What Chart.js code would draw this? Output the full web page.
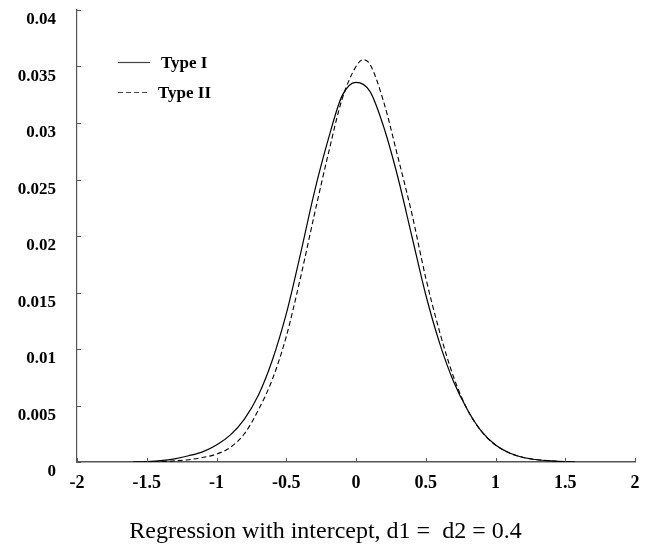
<!DOCTYPE html>
<html>
<head>
<meta charset="utf-8">
<script src="https://cdn.jsdelivr.net/npm/chart.js@4"></script>
<style>
    html, body { margin: 0; padding: 0; background: #fff; }
    #wrap { position: relative; width: 660px; height: 548px; }
</style>
</head>
<body>
<div id="wrap"><canvas id="chart"></canvas></div>
<script>
(function() {
    "use strict";

    var seriesNames = ["Type I", "Type II"];
    var axisTitle = "Regression with intercept, d1 =  d2 = 0.4";

    var typeIX = [-1.6, -1.5, -1.4, -1.3, -1.2, -1.1, -1.0, -0.9, -0.8, -0.7, -0.6, -0.5, -0.4, -0.3, -0.2, -0.1,
        0.0, 0.1, 0.2, 0.3, 0.4, 0.5, 0.6, 0.7, 0.8, 0.9, 1.0, 1.1, 1.2, 1.3, 1.4, 1.5, 1.57];
    var typeIY = [0.0, 0.00004, 0.00012, 0.00028, 0.00055, 0.0009, 0.0015, 0.0024, 0.0038, 0.0059, 0.0090, 0.0131, 0.0183, 0.0238, 0.0285, 0.0324,
        0.0336, 0.0328, 0.0296, 0.0252, 0.0200, 0.0148, 0.0105, 0.0071, 0.0046, 0.0027, 0.0015, 0.0008, 0.0004, 0.0002, 0.0001, 0.00003, 0.0];

    var typeIIX = [-1.45, -1.4, -1.3, -1.2, -1.1, -1.0, -0.9, -0.8, -0.7, -0.6, -0.5, -0.4, -0.3, -0.2, -0.1,
        0.0, 0.05, 0.1, 0.2, 0.3, 0.4, 0.5, 0.6, 0.7, 0.8, 0.9, 1.0, 1.1, 1.2, 1.3, 1.4, 1.52];
    var typeIIY = [0.0, 0.00003, 0.0001, 0.0002, 0.0004, 0.0007, 0.0013, 0.0025, 0.0046, 0.0073, 0.0111, 0.0162, 0.0218, 0.0272, 0.0321,
        0.0350, 0.0356, 0.0352, 0.0318, 0.0270, 0.0220, 0.0163, 0.0115, 0.0075, 0.0046, 0.0027, 0.0015, 0.0008, 0.0004, 0.0002, 0.0001, 0.0];

    var xTicks = [-2, -1.5, -1, -0.5, 0, 0.5, 1, 1.5, 2];
    var yTicks = [0, 0.005, 0.01, 0.015, 0.02, 0.025, 0.03, 0.035, 0.04];

    var serif = "'Liberation Serif', 'Times New Roman', serif";
    var axisColor = "#555";

    function points(xs, ys) {
        return xs.map(function(x, i) {
            return { x: x, y: ys[i] };
        });
    }

    function fmt(v) {
        return String(+Number(v).toFixed(3));
    }

    // inward tick marks on both axes
    var innerTicks = {
        id: "innerTicks",
        afterDraw: function(chart) {
            var ctx = chart.ctx;
            var xs = chart.scales.x;
            var ys = chart.scales.y;
            ctx.save();
            ctx.strokeStyle = axisColor;
            ctx.lineWidth = 1;
            xs.ticks.forEach(function(t) {
                var px = Math.round(xs.getPixelForValue(t.value)) + 0.5;
                ctx.beginPath();
                ctx.moveTo(px, xs.top);
                ctx.lineTo(px, xs.top - 4);
                ctx.stroke();
            });
            ys.ticks.forEach(function(t) {
                var py = Math.round(ys.getPixelForValue(t.value)) + 0.5;
                ctx.beginPath();
                ctx.moveTo(ys.right, py);
                ctx.lineTo(ys.right + 4, py);
                ctx.stroke();
            });
            ctx.restore();
        }
    };

    // legend inside the plot area, top left, and the axis title below
    var innerLegend = {
        id: "innerLegend",
        afterDraw: function(chart) {
            var ctx = chart.ctx;
            var area = chart.chartArea;
            ctx.save();
            ctx.font = "bold 17px " + serif;
            ctx.textBaseline = "middle";
            ctx.fillStyle = "#000";
            chart.data.datasets.forEach(function(ds, i) {
                var y = area.top + 52 + i * 30 + 0.5;
                var x0 = area.left + 41;
                ctx.strokeStyle = "#444";
                ctx.lineWidth = 1.2;
                ctx.setLineDash(ds.borderDash || []);
                ctx.beginPath();
                ctx.moveTo(x0, y);
                ctx.lineTo(x0 + 32, y);
                ctx.stroke();
                ctx.setLineDash([]);
                ctx.fillText(ds.label, x0 + (i === 0 ? 43 : 40), y + 1);
            });

            ctx.font = "24px " + serif;
            ctx.textAlign = "center";
            ctx.textBaseline = "alphabetic";
            ctx.fillText(axisTitle, chart.width / 2 - 4.5, chart.scales.x.bottom - 10);
            ctx.restore();
        }
    };

    new Chart(document.getElementById("chart").getContext("2d"), {
        type: "line",
        data: {
            datasets: [{
                    label: seriesNames[0],
                    data: points(typeIX, typeIY),
                    borderColor: "#000",
                    borderWidth: 1.2,
                    pointRadius: 0,
                    fill: false,
                    cubicInterpolationMode: "monotone"
                },
                {
                    label: seriesNames[1],
                    data: points(typeIIX, typeIIY),
                    borderColor: "#000",
                    borderWidth: 1.1,
                    borderDash: [5, 3],
                    pointRadius: 0,
                    fill: false,
                    cubicInterpolationMode: "monotone"
                }
            ]
        },
        options: {
            responsive: true,
            maintainAspectRatio: false,
            animation: false,
            layout: {
                padding: { top: 10, right: 25, left: 0, bottom: 0 }
            },
            plugins: {
                legend: { display: false },
                tooltip: { enabled: false }
            },
            scales: {
                x: {
                    type: "linear",
                    min: -2,
                    max: 2,
                    afterFit: function(scale) {
                        scale.height = 86;
                        scale.paddingLeft = 0;
                        scale.paddingRight = 0;
                    },
                    afterBuildTicks: function(scale) {
                        scale.ticks = xTicks.map(function(v) { return { value: v }; });
                    },
                    grid: { display: false, drawTicks: false },
                    border: { display: true, color: axisColor, width: 1.5 },
                    ticks: {
                        padding: 11,
                        color: "#000",
                        maxRotation: 0,
                        font: { family: serif, size: 18, weight: "bold" },
                        callback: fmt
                    }
                },
                y: {
                    type: "linear",
                    min: 0,
                    max: 0.04,
                    afterFit: function(scale) {
                        scale.width = 77;
                        scale.paddingTop = 0;
                        scale.paddingBottom = 0;
                    },
                    afterBuildTicks: function(scale) {
                        scale.ticks = yTicks.map(function(v) { return { value: v }; });
                    },
                    grid: { display: false, drawTicks: false },
                    border: { display: true, color: axisColor, width: 1.2 },
                    ticks: {
                        padding: 21,
                        labelOffset: 10,
                        color: "#000",
                        font: { family: serif, size: 17, weight: "bold" },
                        callback: fmt
                    }
                }
            }
        },
        plugins: [innerTicks, innerLegend]
    });
})();
</script>
</body>
</html>
